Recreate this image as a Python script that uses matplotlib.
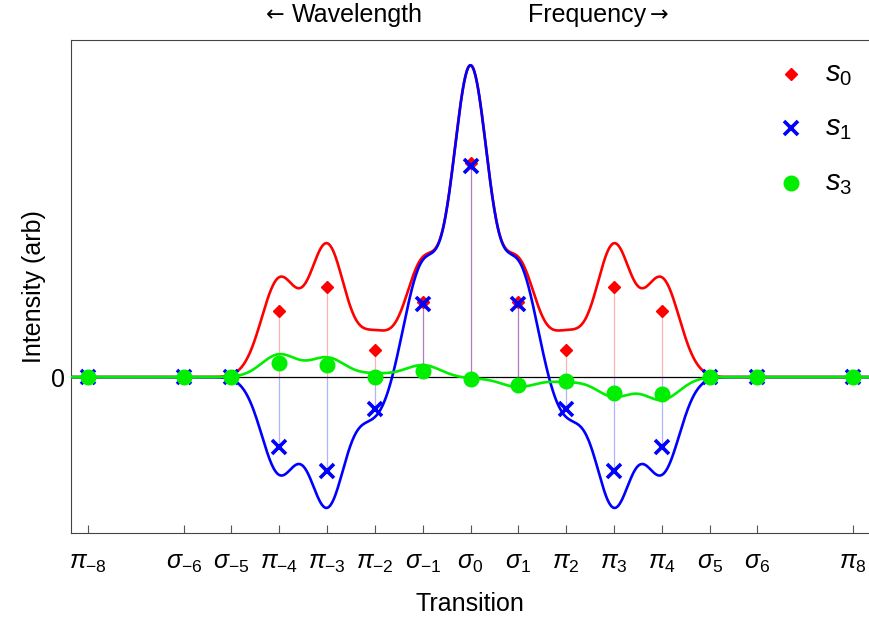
import numpy as np
import matplotlib

matplotlib.use("Agg")
import matplotlib.pyplot as plt

# transition positions (in units of line spacing) and their labels
positions = [-8, -6, -5, -4, -3, -2, -1, 0, 1, 2, 3, 4, 5, 6, 8]
tick_labels = [
    r"$\pi_{-8}$", r"$\sigma_{-6}$", r"$\sigma_{-5}$", r"$\pi_{-4}$",
    r"$\pi_{-3}$", r"$\pi_{-2}$", r"$\sigma_{-1}$", r"$\sigma_{0}$",
    r"$\sigma_{1}$", r"$\pi_{2}$", r"$\pi_{3}$", r"$\pi_{4}$",
    r"$\sigma_{5}$", r"$\sigma_{6}$", r"$\pi_{8}$",
]

# Stokes parameters of each line (arb. units, s0 of sigma_0 = 1)
s0 = [0, 0, 0, 0.309, 0.421, 0.128, 0.351, 1.0, 0.351, 0.128, 0.421, 0.309, 0, 0, 0]
s1 = [0, 0, 0, -0.328, -0.44, -0.148, 0.342, 0.988, 0.342, -0.148, -0.44, -0.328, 0, 0, 0]
s3 = [0, 0, 0, 0.066, 0.058, 0.0, 0.028, -0.007, -0.039, -0.019, -0.073, -0.080, 0, 0, 0]

# peak heights of the broadened line profiles (same units)
s0_profile = [0, 0, 0, 0.452, 0.610, 0.191, 0.520, 1.433, 0.520, 0.191, 0.610, 0.452, 0, 0, 0]
s1_profile = [0, 0, 0, -0.443, -0.596, -0.185, 0.515, 1.433, 0.515, -0.185, -0.596, -0.443, 0, 0, 0]
s3_profile = [0, 0, 0, 0.105, 0.090, 0.015, 0.056, -0.005, -0.046, -0.020, -0.090, -0.105, 0, 0, 0]

LINE_WIDTH = 0.37  # gaussian sigma, in line spacings

plt.rcParams["font.family"] = ["Liberation Sans", "DejaVu Sans"]
plt.rcParams["mathtext.fontset"] = "custom"
plt.rcParams["mathtext.rm"] = "Liberation Sans"
plt.rcParams["mathtext.it"] = "Liberation Sans:italic"


def profile(x, amps):
    pos = np.asarray(positions, dtype=float)
    amps = np.asarray(amps, dtype=float)
    g = np.exp(-((x[:, None] - pos[None, :]) ** 2) / (2 * LINE_WIDTH**2))
    return (g * amps).sum(axis=1)


fig = plt.figure(figsize=(8.69, 6.17), dpi=100)
ax = fig.add_axes([71 / 869, 84 / 617, 1 - 71 / 869, (533 - 40) / 617])

ax.axhline(0, color="black", lw=0.9, zorder=1)

# stems
for x, a, b in zip(positions, s0, s1):
    ax.plot([x, x], [0, a], color="red", lw=0.9, alpha=0.3, zorder=2)
    ax.plot([x, x], [0, b], color="blue", lw=0.9, alpha=0.3, zorder=2)

xs = np.linspace(-8.4, 8.4, 1200)
ax.plot(xs, profile(xs, s0_profile), color="#ff0000", lw=1.9, zorder=3)
ax.plot(xs, profile(xs, s1_profile), color="#0000ff", lw=1.9, zorder=4)
ax.plot(xs, profile(xs, s3_profile), color="#00ee00", lw=1.9, zorder=5)

marker_styles = [
    (s0, dict(marker="D", color="red", ms=6.5), "$s_0$"),
    (s1, dict(marker="x", color="blue", ms=9.5, mew=2.6), "$s_1$"),
    (s3, dict(marker="o", color="#00ee00", ms=10.5), "$s_3$"),
]
legend_rows = [0.931, 0.8215, 0.710]
for z, ((vals, style, label), row) in enumerate(zip(marker_styles, legend_rows)):
    ax.plot(positions, vals, ls="none", zorder=6 + z, **style)
    ax.plot([0.902], [row], ls="none", transform=ax.transAxes, clip_on=False, **style)
    ax.text(0.945, row, label, transform=ax.transAxes, fontsize=21, va="center", ha="left")

ax.set_xlim(-8.356, 8.335)
ax.set_ylim(-0.730, 1.578)

ax.set_xticks(positions)
ax.set_xticklabels(tick_labels, fontsize=18)
ax.set_yticks([0])
ax.set_yticklabels(["0"], fontsize=18)
ax.tick_params(direction="in", length=6, color="#555555")
ax.tick_params(axis="x", pad=13)
ax.tick_params(axis="y", pad=4)
for side in ["left", "bottom", "top"]:
    ax.spines[side].set_color("#444444")
ax.spines["right"].set_visible(False)

ax.set_xlabel("Transition", fontsize=18, labelpad=12)
ax.set_ylabel("Intensity (arb)", fontsize=18, labelpad=4)

top_y = 1 - 15 / 617
fig.text(275 / 869, top_y, "\u2190", fontsize=16, family="DejaVu Sans", ha="center", va="center")
fig.text(292 / 869, top_y, "Wavelength", fontsize=18, ha="left", va="center")
fig.text(528 / 869, top_y, "Frequency", fontsize=18, ha="left", va="center")
fig.text(659 / 869, top_y, "\u2192", fontsize=16, family="DejaVu Sans", ha="center", va="center")

fig.savefig("out.png", dpi=100)
